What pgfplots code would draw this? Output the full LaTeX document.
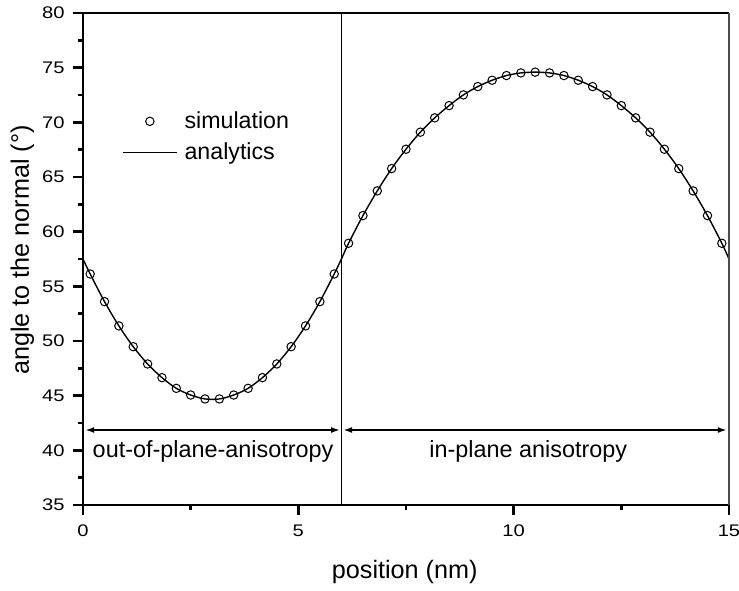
\documentclass[border=0pt]{standalone}
\usepackage{fontspec}
\setmainfont{Liberation Sans}
\newfontfamily\tickfont[FakeStretch=1.2]{Liberation Sans}
\usepackage{pgfplots}
\pgfplotsset{compat=1.18}
\usetikzlibrary{arrows.meta}
\begin{document}
\begin{tikzpicture}
\useasboundingbox (-41.5pt,-42.5pt) rectangle (328pt,252.5pt);
\begin{axis}[
  at={(0pt,0pt)}, anchor=south west,
  scale only axis, width=323pt, height=246pt,
  xmin=0, xmax=15, ymin=35, ymax=80,
  axis x line*=bottom, axis y line*=left,
  axis line style={line width=1.2pt},
  xtick={0,5,10,15}, ytick={35,40,...,80},
  minor xtick={2.5,7.5,12.5}, minor ytick={37.5,42.5,...,77.5},
  tick align=outside,
  major tick length=5.2pt, minor tick length=2.6pt,
  every tick/.style={line width=1.2pt, black},
  /pgf/number format/assume math mode=true,
  xticklabel style={font=\tickfont\fontsize{8.4}{10}\selectfont, yshift=-1pt},
  yticklabel style={font=\tickfont\fontsize{8.4}{10}\selectfont, xshift=-0.5pt},
  xlabel={position (nm)}, ylabel={angle to the normal (°)},
  label style={font=\fontsize{12.6}{15}\selectfont},
  xlabel style={at={(axis description cs:0.498,-0.136)}, anchor=center},
  ylabel style={at={(axis description cs:-0.094,0.518)}, anchor=center},
  legend style={draw=none, fill=none, font=\fontsize{11.6}{14}\selectfont,
    at={(axis cs:0.9,71.4)}, anchor=north west, row sep=1.6pt,
    inner sep=0pt, nodes={inner xsep=3.5pt}},
  legend cell align=left,
  legend image code/.code={\draw[mark repeat=2,mark phase=2,#1] plot coordinates {(0pt,0pt) (13.5pt,0pt) (27pt,0pt)};},
  clip=false,
]
\addplot[only marks, mark=o, mark size=2.1pt, mark options={line width=0.5pt, black}] coordinates {
(0.1667,56.13)(0.5,53.6)(0.8333,51.38)(1.1667,49.48)(1.5,47.9)(1.8333,46.65)
(2.1667,45.67)(2.5,45.06)(2.8333,44.70)(3.1667,44.70)(3.5,45.06)(3.8333,45.67)
(4.1667,46.65)(4.5,47.9)(4.8333,49.48)(5.1667,51.38)(5.5,53.6)(5.8333,56.13)
(6.1667,58.94)(6.5,61.47)(6.8333,63.73)(7.1667,65.77)(7.5,67.54)(7.8333,69.1)
(8.1667,70.41)(8.5,71.53)(8.8333,72.51)(9.1667,73.27)(9.5,73.85)(9.8333,74.28)
(10.1667,74.52)(10.5,74.59)(10.8333,74.52)(11.1667,74.28)(11.5,73.85)(11.8333,73.27)
(12.1667,72.51)(12.5,71.53)(12.8333,70.41)(13.1667,69.1)(13.5,67.54)(13.8333,65.77)
(14.1667,63.73)(14.5,61.47)(14.8333,58.94)
};
\addlegendentry{simulation}
\addplot[black, line width=0.7pt, smooth, no marks] coordinates {
(0,57.5)(0.1667,56.13)(0.5,53.6)(0.8333,51.38)(1.1667,49.48)(1.5,47.9)(1.8333,46.65)
(2.1667,45.67)(2.5,45.06)(2.8333,44.70)(3.1667,44.70)(3.5,45.06)(3.8333,45.67)
(4.1667,46.65)(4.5,47.9)(4.8333,49.48)(5.1667,51.38)(5.5,53.6)(5.8333,56.13)(6,57.5)
(6.1667,58.94)(6.5,61.47)(6.8333,63.73)(7.1667,65.77)(7.5,67.54)(7.8333,69.1)
(8.1667,70.41)(8.5,71.53)(8.8333,72.51)(9.1667,73.27)(9.5,73.85)(9.8333,74.28)
(10.1667,74.52)(10.5,74.59)(10.8333,74.52)(11.1667,74.28)(11.5,73.85)(11.8333,73.27)
(12.1667,72.51)(12.5,71.53)(12.8333,70.41)(13.1667,69.1)(13.5,67.54)(13.8333,65.77)
(14.1667,63.73)(14.5,61.47)(14.8333,58.94)(15,57.5)
};
\addlegendentry{analytics}
% frame top and right
\draw[line width=1.1pt] (axis cs:0,80) -- (axis cs:15,80);
\draw[line width=0.6pt, black!70] (axis cs:15,80) -- (axis cs:15,35);
% divider
\draw[line width=0.6pt] (axis cs:6,35) -- (axis cs:6,80);
% arrows
\draw[line width=1.1pt, {Latex[length=4.5pt,width=3pt]}-{Latex[length=4.5pt,width=3pt]}] (axis cs:0.05,41.86) -- (axis cs:5.97,41.86);
\draw[line width=1.1pt, {Latex[length=4.5pt,width=3pt]}-{Latex[length=4.5pt,width=3pt]}] (axis cs:6.04,41.86) -- (axis cs:14.95,41.86);
\node[font=\fontsize{11.7}{14}\selectfont, anchor=center] at (axis cs:3.02,39.9) {out-of-plane-anisotropy};
\node[font=\fontsize{11.7}{14}\selectfont, anchor=center] at (axis cs:10.34,39.9) {in-plane anisotropy};
\end{axis}
\end{tikzpicture}
\end{document}
